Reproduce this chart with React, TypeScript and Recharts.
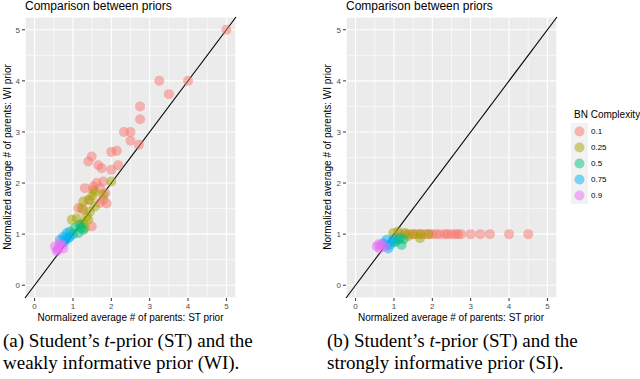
import React from "react";
import { ScatterChart, Scatter, XAxis, YAxis, CartesianGrid, ReferenceLine } from "recharts";

type Pt = { x: number; y: number };

const complexities = ["0.1", "0.25", "0.5", "0.75", "0.9"];
const colors = ["#F8766D", "#A3A500", "#00BF7D", "#00B0F6", "#E76BF3"];
const majorTicks = [0, 1, 2, 3, 4, 5];
const minorTicks = [0.5, 1.5, 2.5, 3.5, 4.5];
const domain: [number, number] = [-0.25, 5.25];
const diagonal = [{ x: -0.25, y: -0.25 }, { x: 5.25, y: 5.25 }];

// panel (a): ST vs WI
const wi01: Pt[] = [
  { x: 5, y: 5 }, { x: 4, y: 4 }, { x: 3.5, y: 3.74 }, { x: 3.25, y: 4 },
  { x: 2.75, y: 3.5 }, { x: 2.75, y: 3.25 }, { x: 2.33, y: 3 }, { x: 2.5, y: 3 },
  { x: 2.5, y: 2.83 }, { x: 2.72, y: 2.75 }, { x: 2.0, y: 2.61 }, { x: 2.14, y: 2.63 },
  { x: 1.49, y: 2.52 }, { x: 1.4, y: 2.42 }, { x: 1.66, y: 2.35 }, { x: 1.75, y: 2.29 },
  { x: 2.18, y: 2.35 }, { x: 2.0, y: 2.26 }, { x: 1.62, y: 2.0 }, { x: 1.79, y: 2.03 },
  { x: 1.7, y: 1.9 }, { x: 1.31, y: 1.9 }, { x: 1.84, y: 1.8 }, { x: 1.53, y: 1.87 },
  { x: 1.79, y: 1.67 }, { x: 1.88, y: 1.6 }, { x: 1.14, y: 1.51 }, { x: 1.27, y: 1.47 },
  { x: 1.49, y: 1.15 }, { x: 1.53, y: 1.93 }, { x: 1.4, y: 1.67 }, { x: 1.7, y: 1.61 },
];
const wi025: Pt[] = [
  { x: 2.0, y: 2.03 }, { x: 1.27, y: 1.64 }, { x: 1.44, y: 1.67 }, { x: 1.23, y: 1.51 },
  { x: 1.57, y: 1.54 }, { x: 0.97, y: 1.28 }, { x: 1.1, y: 1.31 }, { x: 1.36, y: 1.34 },
  { x: 1.27, y: 1.21 }, { x: 1.44, y: 1.44 }, { x: 1.4, y: 1.28 }, { x: 1.31, y: 1.12 },
  { x: 1.79, y: 1.77 }, { x: 1.57, y: 1.83 }, { x: 1.5, y: 1.75 }, { x: 1.2, y: 1.2 },
];
const wi05: Pt[] = [
  { x: 1.05, y: 1.12 }, { x: 1.18, y: 1.18 }, { x: 1.27, y: 1.08 }, { x: 0.92, y: 1.05 },
  { x: 1.14, y: 1.02 }, { x: 1.0, y: 1.0 }, { x: 1.22, y: 1.12 },
];
const wi075: Pt[] = [
  { x: 0.84, y: 1.02 }, { x: 0.75, y: 0.95 }, { x: 0.88, y: 0.92 }, { x: 0.66, y: 0.89 },
  { x: 0.79, y: 0.85 }, { x: 0.92, y: 0.95 }, { x: 0.8, y: 0.9 },
];
const wi09: Pt[] = [
  { x: 0.53, y: 0.76 }, { x: 0.62, y: 0.72 }, { x: 0.58, y: 0.66 }, { x: 0.71, y: 0.79 },
  { x: 0.75, y: 0.72 }, { x: 0.66, y: 0.82 }, { x: 0.6, y: 0.7 },
];

// panel (b): ST vs SI
const si01: Pt[] = [
  { x: 1.15, y: 1 }, { x: 1.3, y: 1 }, { x: 1.4, y: 1 }, { x: 1.5, y: 1 }, { x: 1.6, y: 1 },
  { x: 1.7, y: 1 }, { x: 1.8, y: 1 }, { x: 1.9, y: 1 }, { x: 2.0, y: 1 }, { x: 2.1, y: 1 },
  { x: 2.2, y: 1 }, { x: 2.33, y: 1 }, { x: 2.4, y: 1 }, { x: 2.5, y: 1 }, { x: 2.6, y: 1 },
  { x: 2.67, y: 1 }, { x: 2.75, y: 1 }, { x: 3.0, y: 1 }, { x: 3.25, y: 1 }, { x: 3.5, y: 1 },
  { x: 4.0, y: 1 }, { x: 4.5, y: 1 },
];
const si025: Pt[] = [
  { x: 0.98, y: 1.02 }, { x: 1.11, y: 1.05 }, { x: 1.29, y: 1.02 }, { x: 1.5, y: 1.0 },
  { x: 1.68, y: 0.92 }, { x: 1.9, y: 1.0 }, { x: 1.37, y: 0.96 }, { x: 1.68, y: 1.0 },
];
const si05: Pt[] = [
  { x: 1.11, y: 0.89 }, { x: 1.2, y: 0.79 }, { x: 1.15, y: 0.93 }, { x: 1.03, y: 0.84 },
  { x: 0.98, y: 0.85 }, { x: 1.25, y: 0.9 },
];
const si075: Pt[] = [
  { x: 0.81, y: 0.89 }, { x: 0.72, y: 0.82 }, { x: 0.9, y: 0.79 }, { x: 0.98, y: 0.9 },
  { x: 0.85, y: 0.72 }, { x: 0.8, y: 0.78 },
];
const si09: Pt[] = [
  { x: 0.55, y: 0.76 }, { x: 0.68, y: 0.79 }, { x: 0.63, y: 0.72 }, { x: 0.77, y: 0.76 },
  { x: 0.6, y: 0.8 },
];

const dot = (props: any) => (
  <circle cx={props.cx} cy={props.cy} r={5} fill={props.fill} fillOpacity={0.5} />
);

const tickStyle = { fill: "#4D4D4D", fontSize: 8 };

function Panel({ left, yWidth, right, series }: { left: number; yWidth: number; right: number; series: Pt[][] }) {
  return (
    <div style={{ position: "absolute", left, top: 0 }}>
      <ScatterChart width={320} height={330} margin={{ top: 17, right, bottom: 0, left: 0 }}>
        <XAxis xAxisId="minor" dataKey="x" type="number" domain={domain} ticks={minorTicks} hide allowDataOverflow />
        <YAxis yAxisId="minor" dataKey="y" type="number" domain={domain} ticks={minorTicks} hide allowDataOverflow />
        <CartesianGrid xAxisId="minor" yAxisId="minor" stroke="#FFFFFF" strokeWidth={0.6} fill="#EBEBEB" />
        <CartesianGrid stroke="#FFFFFF" strokeWidth={1.1} />
        <XAxis
          dataKey="x"
          type="number"
          domain={domain}
          ticks={majorTicks}
          allowDataOverflow
          height={32}
          axisLine={false}
          tickSize={3}
          tickMargin={2}
          tickLine={{ stroke: "#333333" }}
          tick={tickStyle}
        />
        <YAxis
          dataKey="y"
          type="number"
          domain={domain}
          ticks={majorTicks}
          allowDataOverflow
          width={yWidth}
          axisLine={false}
          tickSize={3}
          tickMargin={2}
          tickLine={{ stroke: "#333333" }}
          tick={tickStyle}
        />
        {series.map((d, i) => (
          <Scatter key={complexities[i]} data={d} fill={colors[i]} shape={dot} isAnimationActive={false} />
        ))}
        <ReferenceLine segment={diagonal} stroke="#000000" strokeWidth={1.1} ifOverflow="visible" />
      </ScatterChart>
    </div>
  );
}

const text = (extra: React.CSSProperties): React.CSSProperties => ({
  position: "absolute",
  whiteSpace: "nowrap",
  fontFamily: "'Liberation Sans', Arial, sans-serif",
  ...extra,
});

export default function App() {
  return (
    <div
      style={{
        position: "absolute",
        left: 0,
        top: 0,
        width: 640,
        height: 379,
        background: "#FFFFFF",
        overflow: "hidden",
        fontFamily: "'Liberation Sans', Arial, sans-serif",
      }}
    >
      <Panel left={0} yWidth={25} right={84} series={[wi01, wi025, wi05, wi075, wi09]} />
      <Panel left={320} yWidth={26} right={83} series={[si01, si025, si05, si075, si09]} />

      {[0, 320].map((l, k) => (
        <React.Fragment key={l}>
          <div style={text({ left: l + (k ? 26 : 25), top: 0, fontSize: 12, lineHeight: "12px", color: "#000" })}>
            Comparison between priors
          </div>
          <div
            style={text({
              left: l + 8,
              top: 157,
              fontSize: 10,
              lineHeight: "10px",
              color: "#000",
              transform: "translate(-50%, -50%) rotate(-90deg)",
            })}
          >
            Normalized average # of parents: WI prior
          </div>
          <div
            style={text({
              left: l + (k ? 131 : 130.5),
              top: 318,
              fontSize: 10,
              lineHeight: "10px",
              color: "#000",
              transform: "translate(-50%, -50%)",
            })}
          >
            Normalized average # of parents: ST prior
          </div>
        </React.Fragment>
      ))}

      <div style={text({ left: 574, top: 109, fontSize: 10, lineHeight: "12px", color: "#000" })}>BN Complexity</div>
      {complexities.map((c, i) => (
        <div key={c} style={text({ left: 571, top: 123 + i * 16, height: 17, display: "flex", alignItems: "center" })}>
          <svg width={17} height={17}>
            <rect width={17} height={17} fill="#F2F2F2" />
            <circle cx={8.5} cy={8.5} r={5} fill={colors[i]} fillOpacity={0.5} />
          </svg>
          <span style={{ fontSize: 8, color: "#000", marginLeft: 3 }}>{c}</span>
        </div>
      ))}

      {[
        { left: 3, l1: "(a) Student\u2019s ", l2: "weakly informative prior (WI)." },
        { left: 327, l1: "(b) Student\u2019s ", l2: "strongly informative prior (SI)." },
      ].map((c) => (
        <div
          key={c.left}
          style={{
            position: "absolute",
            left: c.left,
            top: 330,
            fontFamily: "'Liberation Serif', 'Times New Roman', serif",
            fontSize: 19,
            lineHeight: "22px",
            color: "#000",
            whiteSpace: "nowrap",
          }}
        >
          <div>
            {c.l1}
            <i>t</i>-prior (ST) and the
          </div>
          <div>{c.l2}</div>
        </div>
      ))}
    </div>
  );
}
